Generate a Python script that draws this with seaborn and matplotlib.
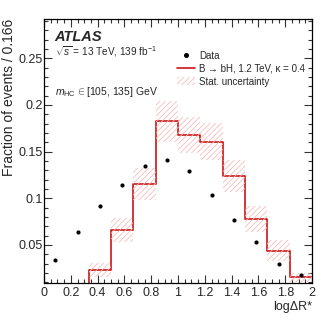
import numpy as np
import pandas as pd
import matplotlib
matplotlib.use("Agg")
import matplotlib.pyplot as plt
from matplotlib.lines import Line2D
from matplotlib.patches import Patch
import seaborn as sns

# ---- data ----
bin_edges = [0.0, 1/6, 2/6, 3/6, 4/6, 5/6, 1.0, 7/6, 8/6, 9/6, 10/6, 11/6, 2.0]
bin_centers = [(a + b) / 2 for a, b in zip(bin_edges[:-1], bin_edges[1:])]
data_frac = [0.0336, 0.0639, 0.0921, 0.1142, 0.1346, 0.1410,
             0.1296, 0.1035, 0.0764, 0.0535, 0.0297, 0.0176]
signal_frac = [0.0, 0.0, 0.0236, 0.0664, 0.1153, 0.1824,
               0.1678, 0.1606, 0.1236, 0.0778, 0.0439, 0.0154]
signal_err = [0.0, 0.0, 0.0076, 0.0130, 0.0168, 0.0216,
              0.0195, 0.0200, 0.0170, 0.0135, 0.0110, 0.0050]
xtick_vals = [0, 0.2, 0.4, 0.6, 0.8, 1.0, 1.2, 1.4, 1.6, 1.8, 2.0]
xtick_labels = ["0", "0.2", "0.4", "0.6", "0.8", "1", "1.2", "1.4", "1.6", "1.8", "2"]
ytick_vals = [0.05, 0.1, 0.15, 0.2, 0.25]
ytick_labels = ["0.05", "0.1", "0.15", "0.2", "0.25"]
legend_labels = ["Data", "B \u2192 bH, 1.2 TeV, \u03ba = 0.4", "Stat. uncertainty"]

df = pd.DataFrame({"x": bin_centers, "data": data_frac,
                   "sig": signal_frac, "err": signal_err})

sns.set_style("ticks")
plt.rcParams["font.family"] = ["Liberation Sans", "DejaVu Sans"]
plt.rcParams["mathtext.fontset"] = "custom"
plt.rcParams["mathtext.rm"] = "Liberation Sans"
plt.rcParams["mathtext.it"] = "Liberation Sans:italic"
plt.rcParams["mathtext.bf"] = "Liberation Sans:bold"
plt.rcParams["hatch.linewidth"] = 0.55

RED = "#cc1414"
HATCH = "#f5b8b8"

fig = plt.figure(figsize=(3.32, 3.22), dpi=100)
ax = fig.add_axes([44/332, 1 - 283/322, (312 - 44)/332, (283 - 19)/322])

# stat uncertainty band (hatched)
ax.bar(df["x"], 2 * df["err"], bottom=df["sig"] - df["err"],
       width=bin_edges[1] - bin_edges[0], facecolor="none",
       edgecolor=HATCH, hatch="//////", linewidth=0, zorder=3)

# signal histogram
sns.histplot(data=df, x="x", weights="sig", bins=bin_edges, element="step",
             fill=False, color=RED, linewidth=1.2, ax=ax, zorder=2)

# data points
sns.scatterplot(data=df, x="x", y="data", color="black", s=9,
                linewidth=0, ax=ax, zorder=5)

ax.set_xlim(0, 2)
ax.set_ylim(0.0093, 0.292)
ax.set_xticks(xtick_vals)
ax.set_xticklabels(xtick_labels)
ax.set_yticks(ytick_vals)
ax.set_yticklabels(ytick_labels)
ax.xaxis.set_minor_locator(matplotlib.ticker.MultipleLocator(0.05))
ax.yaxis.set_minor_locator(matplotlib.ticker.MultipleLocator(0.01))
ax.tick_params(which="both", direction="in", top=True, right=True,
               labelsize=9, color="#333333", width=0.8)
ax.tick_params(which="major", length=6)
ax.tick_params(which="minor", length=3)
ax.tick_params(axis="x", which="major", pad=3)
ax.tick_params(axis="y", which="major", pad=1)
for s in ax.spines.values():
    s.set_linewidth(0.9)
    s.set_color("black")

ax.set_xlabel("log\u0394R*", fontsize=9, loc="right", labelpad=1)
ax.set_ylabel("Fraction of events / 0.166", fontsize=10, loc="top")
ax.yaxis.set_label_coords(-0.105, 1.0)

ax.text(0.04, 0.933, "ATLAS", transform=ax.transAxes, fontsize=10.5,
        fontweight="bold", fontstyle="italic", va="center", ha="left")
ax.text(0.04, 0.876, r"$\sqrt{s}$ = 13 TeV, 139 fb$^{-1}$", transform=ax.transAxes,
        fontsize=7.2, va="center", ha="left")
ax.text(0.04, 0.725, r"$m_{\mathrm{HC}}\,{\in}$[105, 135] GeV", transform=ax.transAxes,
        fontsize=7.5, va="center", ha="left")

handles = [Line2D([], [], marker="o", ls="none", color="black", markersize=2.6),
           Line2D([], [], color=RED, lw=1.2),
           Patch(facecolor="none", edgecolor=HATCH, hatch="//////", linewidth=0)]
ax.legend(handles, legend_labels, loc="upper left", bbox_to_anchor=(0.47, 0.905),
          frameon=False, fontsize=7, handlelength=1.9, handleheight=0.9,
          handletextpad=0.4, labelspacing=0.3, borderpad=0.2)

fig.savefig("out.png", dpi=100)
